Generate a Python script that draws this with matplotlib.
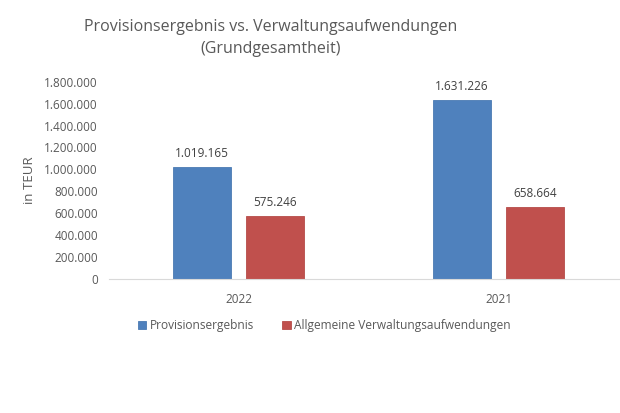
import numpy as np
import matplotlib.pyplot as plt

plt.rcParams['font.family'] = ['Open Sans', 'DejaVu Sans']

years = ['2022', '2021']
provision = [1019165, 1631226]
verwaltung = [575246, 658664]
series_names = ['Provisionsergebnis', 'Allgemeine Verwaltungsaufwendungen']
yticks = np.arange(0, 1800001, 200000)


def fmt(v):
    return f"{v:,}".replace(",", ".")


fig = plt.figure(figsize=(6.2, 4.13), dpi=100)
ax = fig.add_axes([109 / 620, 0.325, 1 - 109 / 620, 0.477])

x = np.arange(len(years))
w = 0.223
off = 0.1404
b1 = ax.bar(x - off, provision, w, color='#4F81BD', edgecolor='#4A7AB3', linewidth=0.6,
            label=series_names[0])
b2 = ax.bar(x + off, verwaltung, w, color='#C0504D', edgecolor='#B64B48', linewidth=0.6,
            label=series_names[1])

for bars, vals in ((b1, provision), (b2, verwaltung)):
    for r, v in zip(bars, vals):
        ax.annotate(fmt(v), (r.get_x() + r.get_width() / 2, v), xytext=(0, 5),
                    textcoords='offset points', ha='center', va='bottom',
                    fontsize=8.5, color='#404040')

ax.set_xlim(-0.499, 1.467)
ax.set_ylim(0, 1800000)
ax.set_yticks(yticks)
ax.set_yticklabels([fmt(int(t)) for t in yticks])
ax.set_xticks(x)
ax.set_xticklabels(years)
ax.tick_params(axis='both', length=0, labelsize=8.5, labelcolor='#595959')
ax.tick_params(axis='x', pad=10)
ax.tick_params(axis='y', pad=8)

for s in ['top', 'right', 'left']:
    ax.spines[s].set_visible(False)
ax.spines['bottom'].set_color('#D9D9D9')

ax.set_ylabel('in TEUR', fontsize=9.5, color='#595959', labelpad=6)

fig.text(271 / 620, 1 - 38 / 413,
         'Provisionsergebnis vs. Verwaltungsaufwendungen\n(Grundgesamtheit)',
         ha='center', va='center', multialignment='center',
         fontsize=11.5, color='#595959', linespacing=1.55)

fig.legend(loc='center', bbox_to_anchor=(0.523, 0.212), ncol=2, frameon=False,
           fontsize=8.6, handlelength=0.7, handleheight=0.7, handletextpad=0.3,
           columnspacing=2.4, labelcolor='#595959')

fig.savefig('out.png', dpi=100)
